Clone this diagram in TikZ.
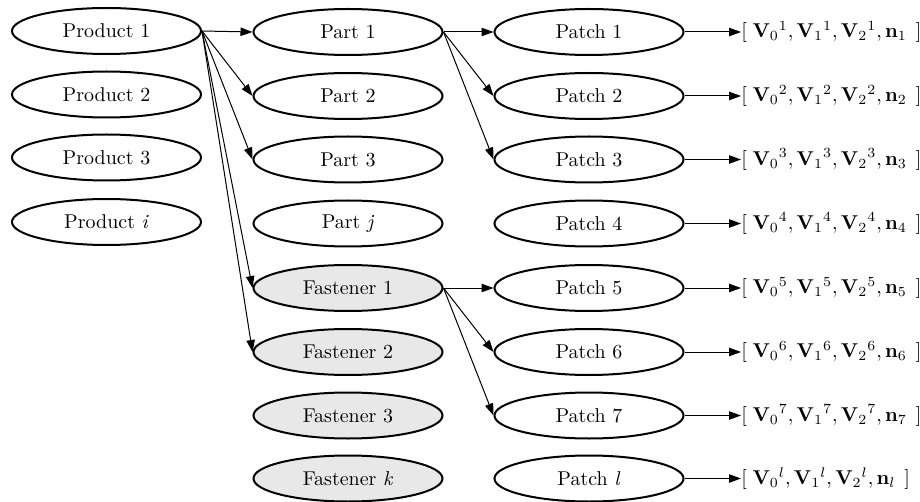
\documentclass[tikz,border=0pt]{standalone}
\usetikzlibrary{shapes.geometric,arrows.meta}
\definecolor{fastfill}{RGB}{232,232,232}
\begin{document}
\begin{tikzpicture}[x=0.5pt,y=-0.5pt,
  obj/.style={ellipse,draw=black,line width=1pt,minimum width=94.5pt,minimum height=23pt,inner sep=0pt,font=\fontsize{10}{12}\selectfont},
  fast/.style={obj,fill=fastfill},
  vec/.style={anchor=west,inner sep=0pt,font=\fontsize{9.6}{12}\selectfont},
  link/.style={line width=0.5pt,-{Triangle[length=6pt,width=4.2pt]}}]
\useasboundingbox (0,0) rectangle (920,502);
\def\ra{32}\def\rb{96}\def\rc{159.5}\def\rd{223.5}\def\re{288}\def\rf{352}\def\rg{415.5}\def\rh{478.5}
% column 1
\node[obj] (pr1) at (106.5,31) {Product 1};
\node[obj] (pr2) at (106.5,94.5) {Product 2};
\node[obj] (pr3) at (106.5,157.5) {Product 3};
\node[obj] (pri) at (106.5,222) {Product \textit{i}};
% column 2
\node[obj] (pa1) at (348,\ra) {Part 1};
\node[obj] (pa2) at (348,\rb) {Part 2};
\node[obj] (pa3) at (348,\rc) {Part 3};
\node[obj] (paj) at (348,\rd) {Part \textit{j}};
\node[fast] (fa1) at (348,\re) {Fastener 1};
\node[fast] (fa2) at (348,\rf) {Fastener 2};
\node[fast] (fa3) at (348,\rg) {Fastener 3};
\node[fast] (fak) at (348,\rh) {Fastener \textit{k}};
% column 3
\node[obj] (pt1) at (589,\ra) {Patch 1};
\node[obj] (pt2) at (589,\rb) {Patch 2};
\node[obj] (pt3) at (589,\rc) {Patch 3};
\node[obj] (pt4) at (589,\rd) {Patch 4};
\node[obj] (pt5) at (589,\re) {Patch 5};
\node[obj] (pt6) at (589,\rf) {Patch 6};
\node[obj] (pt7) at (589,\rg) {Patch 7};
\node[obj] (ptl) at (589,\rh) {Patch \textit{l}};
% column 4
\node[vec] (v1) at (741,\ra) {$[\;\mathbf{V}_0{}^1,\mathbf{V}_1{}^1,\mathbf{V}_2{}^1,\mathbf{n}_1\;\,]$};
\node[vec] (v2) at (741,\rb) {$[\;\mathbf{V}_0{}^2,\mathbf{V}_1{}^2,\mathbf{V}_2{}^2,\mathbf{n}_2\;\,]$};
\node[vec] (v3) at (741,\rc) {$[\;\mathbf{V}_0{}^3,\mathbf{V}_1{}^3,\mathbf{V}_2{}^3,\mathbf{n}_3\;\,]$};
\node[vec] (v4) at (741,\rd) {$[\;\mathbf{V}_0{}^4,\mathbf{V}_1{}^4,\mathbf{V}_2{}^4,\mathbf{n}_4\;\,]$};
\node[vec] (v5) at (741,\re) {$[\;\mathbf{V}_0{}^5,\mathbf{V}_1{}^5,\mathbf{V}_2{}^5,\mathbf{n}_5\;\,]$};
\node[vec] (v6) at (741,\rf) {$[\;\mathbf{V}_0{}^6,\mathbf{V}_1{}^6,\mathbf{V}_2{}^6,\mathbf{n}_6\;\,]$};
\node[vec] (v7) at (741,\rg) {$[\;\mathbf{V}_0{}^7,\mathbf{V}_1{}^7,\mathbf{V}_2{}^7,\mathbf{n}_7\;\,]$};
\node[vec] (vl) at (741,\rh) {$[\;\mathbf{V}_0{}^l,\mathbf{V}_1{}^l,\mathbf{V}_2{}^l,\mathbf{n}_l\;\,]$};
% edges
\foreach \t in {pa1,pa2,pa3,fa1,fa2} \draw[link] (pr1.east) -- (\t.west);
\foreach \t in {pt1,pt2,pt3} \draw[link] (pa1.east) -- (\t.west);
\foreach \t in {pt5,pt6,pt7} \draw[link] (fa1.east) -- (\t.west);
\foreach \s/\t in {pt1/v1,pt2/v2,pt3/v3,pt4/v4,pt5/v5,pt6/v6,pt7/v7,ptl/vl} \draw[link] (\s.east) -- (\t.west);
\end{tikzpicture}
\end{document}
